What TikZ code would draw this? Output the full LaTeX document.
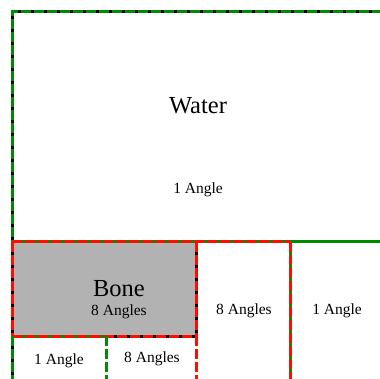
\documentclass[tikz,border=0pt]{standalone}
\usepackage{fontspec}
\setmainfont{Liberation Serif}
\begin{document}
\begin{tikzpicture}[x=1pt,y=-1pt,
  base/.style={line width=3pt},
  blk/.style={base,draw=black},
  grnsolid/.style={base,draw=green!55!black},
  grndash/.style={base,draw=green!55!black,dash pattern=on 10pt off 3pt},
  reddash/.style={base,draw=red!90!orange,dash pattern=on 10pt off 3pt},
  lbl/.style={font=\fontsize{15.5}{17}\selectfont,inner sep=0pt},
  big/.style={font=\fontsize{24.5}{26}\selectfont,inner sep=0pt}]
\useasboundingbox (0,0) rectangle (380,379);
% key points
\coordinate (tl) at (12,12);
\coordinate (tr) at (382,12);
\coordinate (wl) at (12,242);
\coordinate (wm) at (196,242);
\coordinate (wv) at (290,242);
\coordinate (wr) at (382,242);
\coordinate (bl) at (12,336);
\coordinate (bm) at (106,336);
\coordinate (br) at (196,336);
\coordinate (el) at (12,381);
\coordinate (em) at (106,381);
\coordinate (er) at (196,381);
\coordinate (ev) at (290,381);
% bone fill
\fill[gray!60] (wl) rectangle (br);
% outer water box top and left
\draw[blk] (tr) -- (tl) -- (wl);
\draw[grndash] (tr) -- (tl) -- (wl);
% water bottom, right part
\draw[grnsolid] (wl) -- (wr);
\draw[reddash] (wl) -- (wv);
% vertical at 290
\draw[grnsolid] (wv) -- (ev);
\draw[reddash] (wv) -- (ev);
% bone left and right
\draw[blk] (wl) -- (bl);
\draw[reddash] (wl) -- (bl);
\draw[blk] (wm) -- (br);
\draw[reddash] (wm) -- (br);
% bone bottom
\draw[grnsolid] (bl) -- (bm);
\draw[reddash] (bl) -- (bm);
\draw[blk] (bm) -- (br);
\draw[reddash,dash phase=2pt] (bm) -- (br);
% lower verticals
\draw[reddash] (br) -- (er);
\draw[grndash] (bm) -- (em);
\draw[blk] (bl) -- (el);
\draw[grndash] (bl) -- (el);
% texts
\node[big] (water) at (198,106) {Water};
\node[lbl] (wang) at (198,190) {1 Angle};
\node[big,anchor=base] (bone) at (119,297) {Bone};
\node[lbl,anchor=base] (bang) at (119,315) {8 Angles};
\node[lbl] (c1) at (59,361) {1 Angle};
\node[lbl] (c2) at (152,359) {8 Angles};
\node[lbl] (c3) at (244,311) {8 Angles};
\node[lbl] (c4) at (337,311) {1 Angle};
\end{tikzpicture}
\end{document}
